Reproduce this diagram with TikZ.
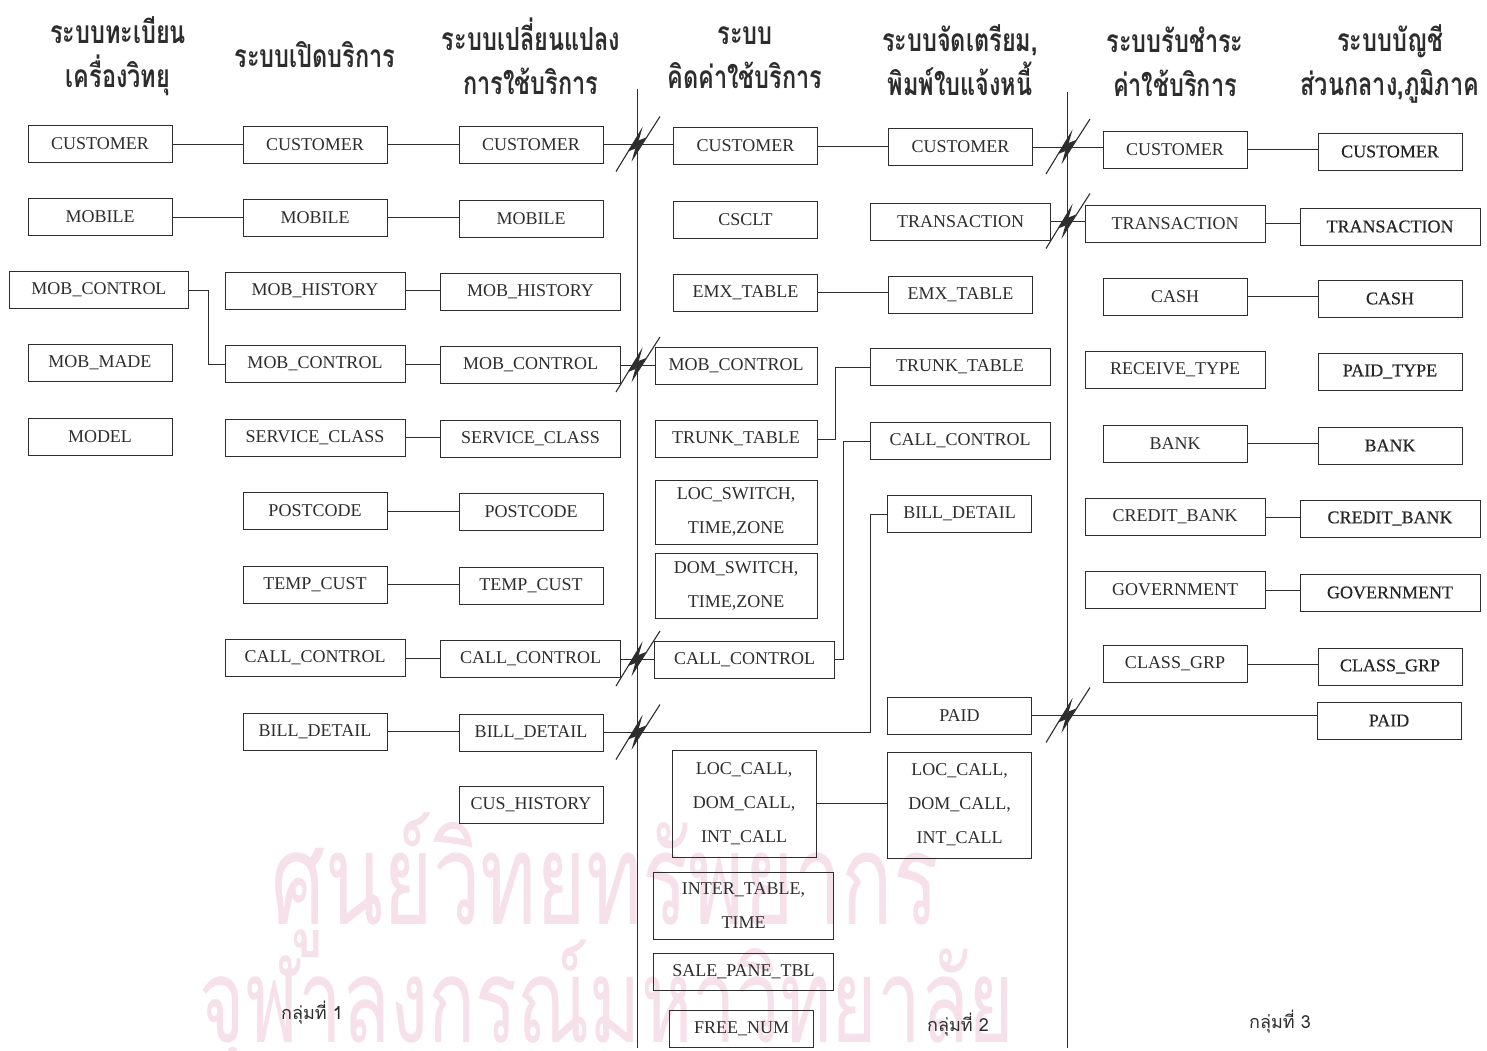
\documentclass[tikz,border=0pt]{standalone}
\usepackage{fontspec}
\setmainfont{Liberation Serif}
\newfontfamily\thai[Script=Thai]{Loma}
\newfontfamily\heavyserif[FakeBold=0.45]{Liberation Serif}
\usetikzlibrary{calc}
\definecolor{ink}{RGB}{45,45,45}
\definecolor{wm}{RGB}{246,224,233}
\newcommand{\tallt}[1]{\scalebox{1}[1.35]{#1}}
\newcommand{\tallw}[2]{\scalebox{1}[#1]{#2}}

\begin{document}
\begin{tikzpicture}[x=1pt,y=-1pt,
  box/.style={draw=ink, line width=1pt, inner sep=0pt, text=ink,
    font=\fontsize{18}{34}\selectfont, align=center, minimum height=37},
  sb/.style={box, minimum width=144},
  wb/.style={box, minimum width=180},
  dark/.style={font=\heavyserif\fontsize{18}{34}\selectfont, text=black!85},
  link/.style={draw=ink, line width=1pt},
  head/.style={font=\thai\bfseries\fontsize{23.5}{44}\selectfont, text=ink, align=center},
  group/.style={font=\thai\fontsize{18}{20}\selectfont, text=ink},
  wmark/.style={text=wm, inner sep=0pt},
  brk/.pic={
    \draw[ink, line width=1.1pt] (-21,27) -- (4,-14) -- (-4,14) -- (23,-28);
    \fill[ink] (4,-14) -- (-9,7) -- (-1.5,4) -- cycle;
    \fill[ink] (-4,14) -- (9,-7) -- (1.5,-4) -- cycle;
  }
]
\fill[white] (0,0) rectangle (1487,1050);
\useasboundingbox (0,0) rectangle (1487,1050);

% background stamp lettering
\node[wmark, font=\thai\fontsize{85}{100}\selectfont] (wm1) at (605,885) {\tallw{1.5}{ศูนย์วิทยทรัพยากร}};
\node[wmark, font=\thai\fontsize{78}{100}\selectfont] (wm2) at (607,1006) {\tallw{1.5}{จุฬาลงกรณ์มหาวิทยาลัย}};

% column headings
\node[head] (h1) at (118,56) {\tallt{ระบบทะเบียน}\\\tallt{เครื่องวิทยุ}};
\node[head] (h2) at (315,55) {\tallt{ระบบเปิดบริการ}};
\node[head] (h3) at (531,56) {\tallt{ระบบเปลี่ยนแปลง}\\\tallt{การใช้บริการ}};
\node[head] (h4) at (745,58) {\tallt{ระบบ}\\\tallt{คิดค่าใช้บริการ}};
\node[head] (h5) at (960,60) {\tallt{ระบบจัดเตรียม,}\\\tallt{พิมพ์ใบแจ้งหนี้}};
\node[head] (h6) at (1175,62) {\tallt{ระบบรับชำระ}\\\tallt{ค่าใช้บริการ}};
\node[head] (h7) at (1390,64) {\tallt{ระบบบัญชี}\\\tallt{ส่วนกลาง,ภูมิภาค}};

% group dividers
\coordinate (v1t) at (637,89);
\coordinate (v1b) at (637,1048);
\coordinate (v2t) at (1067,92);
\coordinate (v2b) at (1067,1048);
\draw[link] (v1t) -- (v1b);
\draw[link] (v2t) -- (v2b);

% registration
\node[sb] (c1a) at (100,144) {CUSTOMER};
\node[sb] (c1b) at (100,217) {MOBILE};
\node[box, minimum width=179] (c1c) at (99,290) {MOB\_CONTROL};
\node[sb] (c1d) at (100,363) {MOB\_MADE};
\node[sb] (c1e) at (100,436.5) {MODEL};

% service opening
\node[sb] (c2a) at (315,144.5) {CUSTOMER};
\node[sb] (c2b) at (315,217.5) {MOBILE};
\node[wb] (c2c) at (315,290.5) {MOB\_HISTORY};
\node[wb] (c2d) at (315,364) {MOB\_CONTROL};
\node[wb] (c2e) at (315,437.5) {SERVICE\_CLASS};
\node[sb] (c2f) at (315,511) {POSTCODE};
\node[sb] (c2g) at (315,584.5) {TEMP\_CUST};
\node[wb] (c2h) at (315,658) {CALL\_CONTROL};
\node[sb] (c2i) at (315,731.5) {BILL\_DETAIL};

% service changes
\node[sb] (c3a) at (531,144.5) {CUSTOMER};
\node[sb] (c3b) at (531,218.5) {MOBILE};
\node[wb] (c3c) at (530.5,291.5) {MOB\_HISTORY};
\node[wb] (c3d) at (530.5,365) {MOB\_CONTROL};
\node[wb] (c3e) at (530.5,438.5) {SERVICE\_CLASS};
\node[sb] (c3f) at (531,512) {POSTCODE};
\node[sb] (c3g) at (531,585.5) {TEMP\_CUST};
\node[wb] (c3h) at (530.5,659) {CALL\_CONTROL};
\node[sb] (c3i) at (531,732.5) {BILL\_DETAIL};
\node[sb] (c3j) at (531,805) {CUS\_HISTORY};

% charging
\node[sb] (c4a) at (745.5,146) {CUSTOMER};
\node[sb] (c4b) at (745.5,219.5) {CSCLT};
\node[sb] (c4c) at (745.5,292.5) {EMX\_TABLE};
\node[box, minimum width=162] (c4d) at (736,365.5) {MOB\_CONTROL};
\node[box, minimum width=162] (c4e) at (736,439) {TRUNK\_TABLE};
\node[box, minimum width=162, minimum height=64] (c4f) at (736,512) {LOC\_SWITCH,\\TIME,ZONE};
\node[box, minimum width=162, minimum height=65] (c4g) at (736,585.5) {DOM\_SWITCH,\\TIME,ZONE};
\node[wb] (c4h) at (744.5,659.5) {CALL\_CONTROL};
\node[sb, minimum height=107] (c4i) at (744,803.5) {LOC\_CALL,\\DOM\_CALL,\\INT\_CALL};
\node[wb, minimum height=67] (c4j) at (743.5,905.5) {INTER\_TABLE,\\TIME};
\node[wb] (c4k) at (743.5,971.5) {SALE\_PANE\_TBL};
\node[sb] (c4l) at (741.5,1028.5) {FREE\_NUM};

% billing preparation
\node[sb] (c5a) at (960.5,147) {CUSTOMER};
\node[wb] (c5b) at (960.5,221.5) {TRANSACTION};
\node[sb] (c5c) at (960.5,294.5) {EMX\_TABLE};
\node[wb] (c5d) at (960,367) {TRUNK\_TABLE};
\node[wb] (c5e) at (960,441) {CALL\_CONTROL};
\node[sb] (c5f) at (959.5,514) {BILL\_DETAIL};
\node[sb] (c5g) at (959.5,715.5) {PAID};
\node[sb, minimum height=106] (c5h) at (959.5,805) {LOC\_CALL,\\DOM\_CALL,\\INT\_CALL};

% payment
\node[sb] (c6a) at (1175,149.5) {CUSTOMER};
\node[wb] (c6b) at (1175,223.5) {TRANSACTION};
\node[sb] (c6c) at (1175,296.5) {CASH};
\node[wb] (c6d) at (1175,370) {RECEIVE\_TYPE};
\node[sb] (c6e) at (1175,443.5) {BANK};
\node[wb] (c6f) at (1175,517) {CREDIT\_BANK};
\node[wb] (c6g) at (1175,590) {GOVERNMENT};
\node[sb] (c6h) at (1175,664) {CLASS\_GRP};

% accounting
\node[sb, dark] (c7a) at (1390,151.5) {CUSTOMER};
\node[wb, dark] (c7b) at (1390,226.5) {TRANSACTION};
\node[sb, dark] (c7c) at (1390,298.5) {CASH};
\node[sb, dark] (c7d) at (1390,371.5) {PAID\_TYPE};
\node[sb, dark] (c7e) at (1390,445.5) {BANK};
\node[wb, dark] (c7f) at (1390,518.5) {CREDIT\_BANK};
\node[wb, dark] (c7g) at (1390,592.5) {GOVERNMENT};
\node[sb, dark] (c7h) at (1390,666.5) {CLASS\_GRP};
\node[sb, dark] (c7i) at (1389,720.5) {PAID};

% links between columns 1 and 2
\draw[link] (c1a.east) -- (c1a.east -| c2a.west);
\draw[link] (c1b.east) -- (c1b.east -| c2b.west);
\draw[link] (c1c.east) -- ++(19,0) |- (c2d.west);

% links between columns 2 and 3
\foreach \a/\b in {c2a/c3a, c2b/c3b, c2c/c3c, c2d/c3d, c2e/c3e, c2f/c3f, c2g/c3g, c2h/c3h, c2i/c3i}
  \draw[link] (\a.east) -- (\a.east -| \b.west);

% links across the first divider
\draw[link] (c3a.east) -- (c3a.east -| c4a.west);
\draw[link] (c3d.east) -- (c3d.east -| c4d.west);
\draw[link] (c3h.east) -- (c3h.east -| c4h.west);
\draw[link] (c3i.east) -- (870,732.5) |- (c5f.west);
\pic at (v1t |- c3a.east) {brk};
\pic at (v1t |- c3d.east) {brk};
\pic at (v1t |- c3h.east) {brk};
\pic at (v1t |- c3i.east) {brk};

% links between columns 4 and 5
\draw[link] (c4a.east) -- (c4a.east -| c5a.west);
\draw[link] (c4c.east) -- (c4c.east -| c5c.west);
\draw[link] (c4e.east) -- ++(18,0) |- (c5d.west);
\draw[link] (c4h.east) -- ++(8,0) |- (c5e.west);
\draw[link] (c4i.east) -- (c4i.east -| c5h.west);

% links across the second divider
\draw[link] (c5a.east) -- (c5a.east -| c6a.west);
\draw[link] (c5b.east) -- (c5b.east -| c6b.west);
\draw[link] (c5g.east) -- (c5g.east -| c7i.west);
\pic at (v2t |- c5a.east) {brk};
\pic at (v2t |- c5b.east) {brk};
\pic at (v2t |- c5g.east) {brk};

% links between columns 6 and 7
\foreach \a/\b in {c6a/c7a, c6b/c7b, c6c/c7c, c6e/c7e, c6f/c7f, c6g/c7g, c6h/c7h}
  \draw[link] (\a.east) -- (\a.east -| \b.west);

% group labels
\node[group] (g1) at (312,1013) {กลุ่มที่ 1};
\node[group] (g2) at (958,1025) {กลุ่มที่ 2};
\node[group] (g3) at (1280,1022) {กลุ่มที่ 3};
\end{tikzpicture}
\end{document}
